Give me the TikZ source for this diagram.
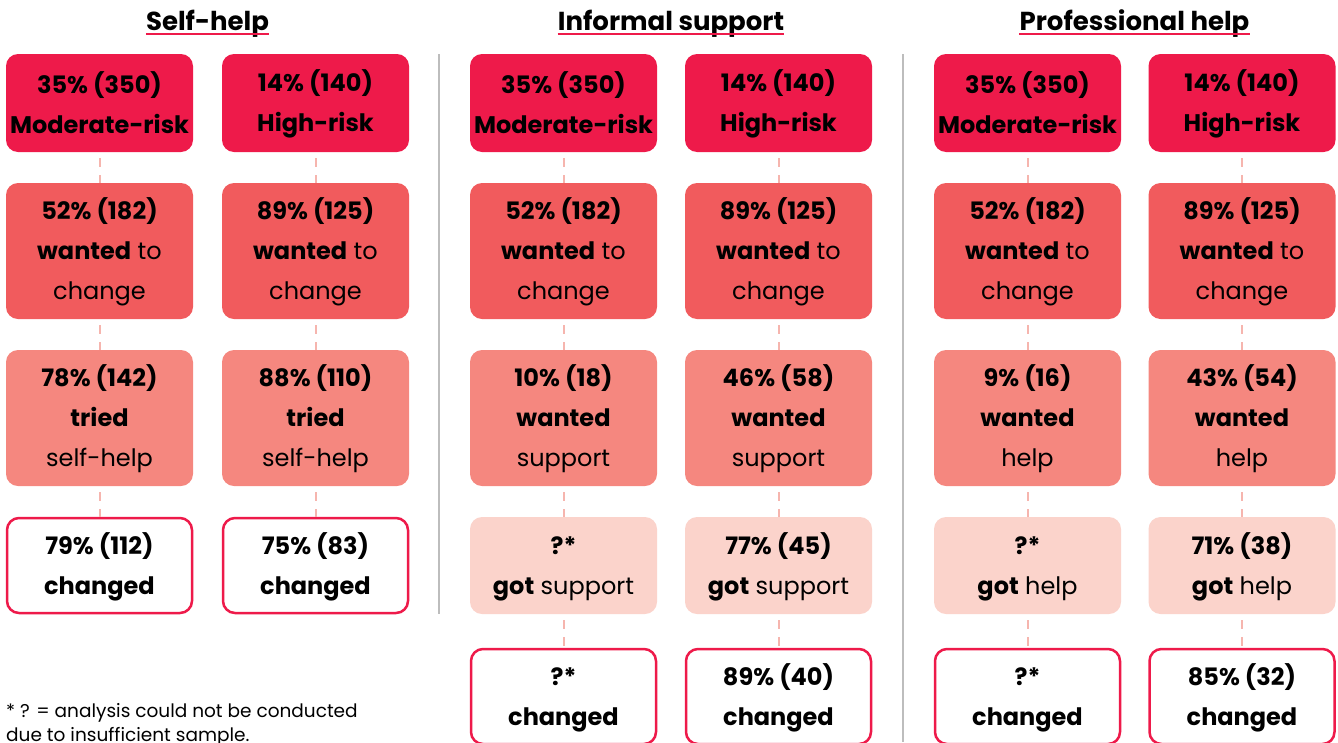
\documentclass[tikz,border=0pt]{standalone}
\usepackage{fontspec}
\setmainfont{Poppins}[Numbers=Monospaced]
\definecolor{cA}{HTML}{EE1A4A}
\definecolor{cB}{HTML}{F15B5D}
\definecolor{cC}{HTML}{F5877F}
\definecolor{cD}{HTML}{FBD3CB}
\definecolor{conn}{HTML}{F6B5AE}
\definecolor{divc}{HTML}{BDBDBD}
\newcommand\bst{\rule[-4pt]{0pt}{28pt}}
\newcommand\bl[1]{\bst#1}
\tikzset{
  box/.style={rounded corners=12pt, minimum width=187pt, align=center, inner sep=0pt,
    font=\fontsize{24}{40}\selectfont, text=black},
  rA/.style={box, fill=cA, minimum height=98pt},
  rB/.style={box, fill=cB, minimum height=136pt},
  rC/.style={box, fill=cC, minimum height=136pt},
  rD/.style={box, fill=cD, minimum height=97pt},
  rE/.style={box, draw=cA, line width=2.5pt, fill=white, minimum width=185pt, minimum height=95pt},
  link/.style={draw=conn, line width=2pt, dash pattern=on 9pt off 8pt, dash phase=11pt},
  title/.style={inner sep=0pt, anchor=base, font=\fontsize{26}{30}\selectfont\bfseries},
  uline/.style={draw=cA, line width=2.5pt},
  divider/.style={draw=divc, line width=1.5pt},
  note/.style={inner sep=0pt, anchor=base west, font=\fontsize{18.5}{24}\selectfont, align=left}
}
\begin{document}
\begin{tikzpicture}[x=1pt,y=-1pt]
\useasboundingbox (0,0) rectangle (1338,742);
\clip (0,0) rectangle (1338,742);
% titles
\node[title] (t1) at (207.5,30.5) {Self-help};
\node[title] (t2) at (671,30.5) {Informal support};
\node[title] (t3) at (1134.5,30.5) {Professional help};
\foreach \t in {t1,t2,t3}
  \draw[uline] ([yshift=-3.5pt]\t.base west) -- ([yshift=-3.5pt]\t.base east);
% dividers
\coordinate (d1a) at (439,54); \coordinate (d1b) at (439,614);
\coordinate (d2a) at (903,54); \coordinate (d2b) at (903,742);
\draw[divider] (d1a) -- (d1b);
\draw[divider] (d2a) -- (d2b);
% ---- Self-help
\node[rA] (a1) at (99.5,103) {\bl{\textbf{35\% (350)}}\\\bl{\textbf{Moderate-risk}}};
\node[rA] (b1) at (315.5,103) {\bl{\textbf{14\% (140)}}\\\bl{\textbf{High-risk}}};
\node[rB] (a2) at (99.5,251) {\bl{\textbf{52\% (182)}}\\\bl{\textbf{wanted} to}\\\bl{change}};
\node[rB] (b2) at (315.5,251) {\bl{\textbf{89\% (125)}}\\\bl{\textbf{wanted} to}\\\bl{change}};
\node[rC] (a3) at (99.5,418) {\bl{\textbf{78\% (142)}}\\\bl{\textbf{tried}}\\\bl{self-help}};
\node[rC] (b3) at (315.5,418) {\bl{\textbf{88\% (110)}}\\\bl{\textbf{tried}}\\\bl{self-help}};
\node[rE] (a4) at (99.5,565.5) {\bl{\textbf{79\% (112)}}\\\bl{\textbf{changed}}};
\node[rE] (b4) at (315.5,565.5) {\bl{\textbf{75\% (83)}}\\\bl{\textbf{changed}}};
% ---- Informal support
\node[rA] (c1) at (563.5,103) {\bl{\textbf{35\% (350)}}\\\bl{\textbf{Moderate-risk}}};
\node[rA] (d1) at (778.5,103) {\bl{\textbf{14\% (140)}}\\\bl{\textbf{High-risk}}};
\node[rB] (c2) at (563.5,251) {\bl{\textbf{52\% (182)}}\\\bl{\textbf{wanted} to}\\\bl{change}};
\node[rB] (d2) at (778.5,251) {\bl{\textbf{89\% (125)}}\\\bl{\textbf{wanted} to}\\\bl{change}};
\node[rC] (c3) at (563.5,418) {\bl{\textbf{10\% (18)}}\\\bl{\textbf{wanted}}\\\bl{support}};
\node[rC] (d3) at (778.5,418) {\bl{\textbf{46\% (58)}}\\\bl{\textbf{wanted}}\\\bl{support}};
\node[rD] (c4) at (563.5,565.5) {\bl{\textbf{?*}}\\\bl{\textbf{got} support}};
\node[rD] (d4) at (778.5,565.5) {\bl{\textbf{77\% (45)}}\\\bl{\textbf{got} support}};
\node[rE] (c5) at (563.5,696.5) {\bl{\textbf{?*}}\\\bl{\textbf{changed}}};
\node[rE] (d5) at (778.5,696.5) {\bl{\textbf{89\% (40)}}\\\bl{\textbf{changed}}};
% ---- Professional help
\node[rA] (e1) at (1027.5,103) {\bl{\textbf{35\% (350)}}\\\bl{\textbf{Moderate-risk}}};
\node[rA] (f1) at (1242,103) {\bl{\textbf{14\% (140)}}\\\bl{\textbf{High-risk}}};
\node[rB] (e2) at (1027.5,251) {\bl{\textbf{52\% (182)}}\\\bl{\textbf{wanted} to}\\\bl{change}};
\node[rB] (f2) at (1242,251) {\bl{\textbf{89\% (125)}}\\\bl{\textbf{wanted} to}\\\bl{change}};
\node[rC] (e3) at (1027.5,418) {\bl{\textbf{9\% (16)}}\\\bl{\textbf{wanted}}\\\bl{help}};
\node[rC] (f3) at (1242,418) {\bl{\textbf{43\% (54)}}\\\bl{\textbf{wanted}}\\\bl{help}};
\node[rD] (e4) at (1027.5,565.5) {\bl{\textbf{?*}}\\\bl{\textbf{got} help}};
\node[rD] (f4) at (1242,565.5) {\bl{\textbf{71\% (38)}}\\\bl{\textbf{got} help}};
\node[rE] (e5) at (1027.5,696.5) {\bl{\textbf{?*}}\\\bl{\textbf{changed}}};
\node[rE] (f5) at (1242,696.5) {\bl{\textbf{85\% (32)}}\\\bl{\textbf{changed}}};
% connectors
\foreach \c in {a,b} {
  \draw[link] (\c1.south) -- (\c2.north);
  \draw[link] (\c2.south) -- (\c3.north);
  \draw[link] (\c3.south) -- (\c4.north);
}
\foreach \c in {c,d,e,f} {
  \draw[link] (\c1.south) -- (\c2.north);
  \draw[link] (\c2.south) -- (\c3.north);
  \draw[link] (\c3.south) -- (\c4.north);
  \draw[link] (\c4.south) -- (\c5.north);
}
% footnote
\node[note] (fn) at (6,741) {* ? = analysis could not be conducted\\due to insufficient sample.};
\end{tikzpicture}
\end{document}
